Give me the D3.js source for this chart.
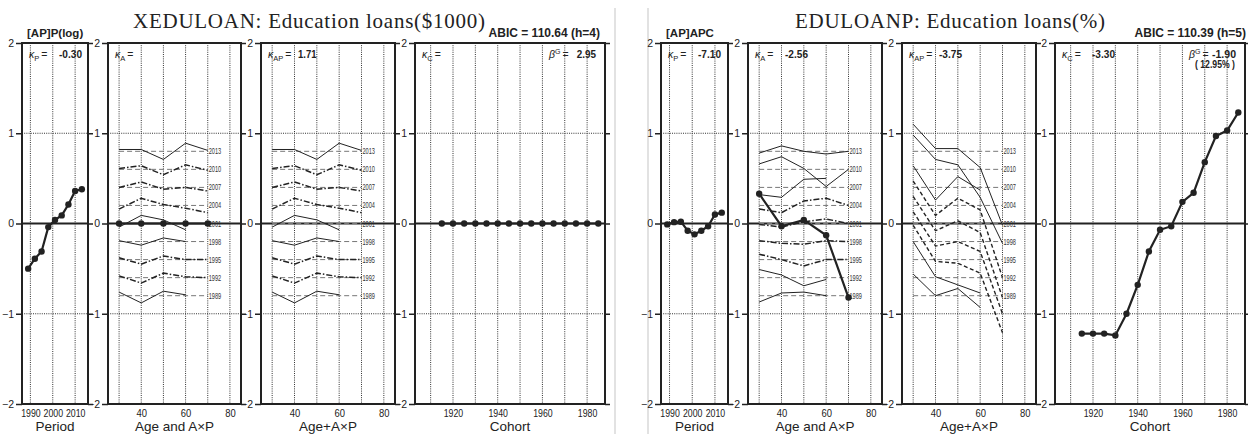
<!DOCTYPE html>
<html>
<head>
<meta charset="utf-8">
<script src="https://cdn.jsdelivr.net/npm/d3@7"></script>
<style>
body { margin: 0; background: #fff; }
svg { display: block; font-family: "Liberation Sans", Arial, sans-serif; }
</style>
</head>
<body>
<svg id="chart" width="1248" height="434"></svg>
<script>
// ---- data ----
const periods = [1989, 1992, 1995, 1998, 2001, 2004, 2007, 2010, 2013];
const ages = [30, 40, 50, 60, 70];
const cohorts = [1915, 1920, 1925, 1930, 1935, 1940, 1945, 1950, 1955, 1960, 1965, 1970, 1975, 1980, 1985];
const refLevels = [-0.8, -0.6, -0.4, -0.2, 0, 0.2, 0.4, 0.6, 0.8];

const periodGrid = [1990, 2000, 2010];
const ageGrid = [30, 40, 50, 60, 70, 80];
const ageTicks = [40, 60, 80];
const cohortGrid = [1910, 1920, 1930, 1940, 1950, 1960, 1970, 1980];
const cohortTicks = [1920, 1940, 1960, 1980];
const yTicks = [-2, -1, 0, 1, 2];

// XEDULOAN ($1000)
const loanPeriod = [-0.50, -0.39, -0.31, -0.04, 0.04, 0.09, 0.21, 0.36, 0.38];
const loanAge = [0, 0, 0, 0, 0];
const loanCohort = [0, 0, 0, 0, 0, 0, 0, 0, 0, 0, 0, 0, 0, 0, 0];
const loanAxP = [
  [-0.76, -0.88, -0.75, -0.79],
  [-0.58, -0.66, -0.55, -0.59, -0.60],
  [-0.38, -0.45, -0.36, -0.40, -0.40],
  [-0.19, -0.24, -0.16, -0.20],
  [-0.04, 0.09, 0.04, -0.07],
  [0.16, 0.28, 0.21, 0.17, 0.12],
  [0.40, 0.46, 0.38, 0.40, 0.36],
  [0.61, 0.64, 0.54, 0.65, 0.59],
  [0.82, 0.82, 0.71, 0.89, 0.81]
];
const loanAgeAxP = loanAxP;

// EDULOANP (%)
const pctPeriod = [-0.01, 0.015, 0.02, -0.08, -0.12, -0.08, -0.03, 0.10, 0.12];
const pctAge = [0.33, -0.03, 0.04, -0.13, -0.82];
const pctCohort = [-1.22, -1.22, -1.22, -1.24, -1.00, -0.68, -0.31, -0.07, -0.03, 0.24, 0.34, 0.68, 0.97, 1.03, 1.23];
const pctAxP = [
  [-0.87, -0.77, -0.76, -0.80],
  [-0.51, -0.57, -0.69, -0.62],
  [-0.34, -0.40, -0.47, -0.40, -0.40],
  [-0.19, -0.22, -0.23, -0.19, -0.20],
  [-0.01, -0.04, 0.02, 0.05, 0.00],
  [0.16, 0.12, 0.25, 0.28, 0.20],
  [0.32, 0.29, 0.49, 0.50],
  [0.66, 0.74, 0.61, 0.41, 0.60],
  [0.78, 0.86, 0.80, 0.77, 0.80]
];
const pctAgeAxP = [
  [-0.56, -0.80, -0.72, -0.93],
  [-0.20, -0.59, -0.68, -0.77],
  [-0.02, -0.42, -0.44, -0.55, -1.21],
  [0.13, -0.25, -0.20, -0.31, -1.00],
  [0.30, -0.08, 0.03, -0.10, -0.82],
  [0.47, 0.09, 0.28, 0.15, -0.60],
  [0.64, 0.26, 0.52, 0.37],
  [0.98, 0.71, 0.65, 0.29, -0.22],
  [1.10, 0.83, 0.83, 0.62, -0.02]
];

// line style per period (index follows periods)
const loanStyles = ["solid", "dashdot", "dashdot", "solid", "solid", "dashdot", "dashdot", "dashdot", "solid"];
const pctStylesA = ["solid", "solid", "dashdot", "dashdot", "dashdot", "dashdot", "solid", "solid", "solid"];
const pctStylesAP = ["solid", "solid", "dash", "dash", "dash", "dash", "solid", "solid", "solid"];

// ---- drawing ----
const svg = d3.select("#chart");
const ink = "#222";
const yTop = 43, yBot = 404;
const y = d3.scaleLinear().domain([-2, 2]).range([yBot, yTop]);
const dashOf = { solid: null, dashdot: "6,2,1.5,2", dash: "4,2.5" };
const widthOf = { solid: 1, dashdot: 1.5, dash: 1.4 };

svg.append("rect").attr("width", 1248).attr("height", 434).attr("fill", "#fff");
// separators between the two figures
[615, 648].forEach(function(sx) {
  svg.append("line").attr("x1", sx).attr("x2", sx).attr("y1", 8).attr("y2", 434)
    .attr("stroke", "#d8d8d8").attr("stroke-width", 1.5);
});

function drawPanel(p) {
  const x = d3.scaleLinear().domain(p.domain).range([p.x0, p.x1]);
  const g = svg.append("g");

  g.selectAll("line.vg").data(p.grid).join("line")
    .attr("x1", d => x(d)).attr("x2", d => x(d))
    .attr("y1", yTop).attr("y2", yBot)
    .attr("stroke", "#333").attr("stroke-width", 1).attr("stroke-dasharray", "1,1.2");
  g.selectAll("line.hg").data([1, -1]).join("line")
    .attr("x1", p.x0).attr("x2", p.x1)
    .attr("y1", d => y(d)).attr("y2", d => y(d))
    .attr("stroke", "#333").attr("stroke-width", 1).attr("stroke-dasharray", "1,1.2");
  g.append("line").attr("x1", p.x0).attr("x2", p.x1)
    .attr("y1", y(0)).attr("y2", y(0))
    .attr("stroke", ink).attr("stroke-width", 2);

  // y axis (left, with labels) and right ticks
  const yl = g.append("g").attr("transform", `translate(${p.x0},0)`)
    .call(d3.axisLeft(y).tickValues(yTicks).tickSize(6).tickPadding(2).tickFormat(d3.format("d")));
  const yr = g.append("g").attr("transform", `translate(${p.x1},0)`)
    .call(d3.axisRight(y).tickValues(yTicks).tickSize(5).tickFormat(""));
  [yl, yr].forEach(a => {
    a.select(".domain").remove();
    a.selectAll(".tick line").attr("stroke", ink).attr("stroke-width", 1.5);
  });
  yl.selectAll(".tick text").attr("font-size", 10.5).attr("fill", ink)
    .attr("font-family", "Liberation Sans, Arial, sans-serif");

  // x axis tick labels
  const xa = g.append("g").attr("transform", `translate(0,${yBot})`)
    .call(d3.axisBottom(x).tickValues(p.ticks).tickSize(0).tickPadding(6).tickFormat(d3.format("d")));
  xa.select(".domain").remove();
  xa.selectAll(".tick text").attr("font-size", 10.5).attr("fill", ink)
    .attr("font-family", "Liberation Sans, Arial, sans-serif")
    .attr("textLength", d => String(d).length === 4 ? 19.5 : 10.5)
    .attr("lengthAdjust", "spacingAndGlyphs");

  g.append("text").attr("x", (p.x0 + p.x1) / 2).attr("y", 431)
    .attr("text-anchor", "middle").attr("font-size", 13.5).attr("fill", ink)
    .text(p.title);

  g.append("rect").attr("x", p.x0).attr("y", yTop)
    .attr("width", p.x1 - p.x0).attr("height", yBot - yTop)
    .attr("fill", "none").attr("stroke", ink).attr("stroke-width", 2);
  return x;
}

function kappa(x0, sub, value) {
  const t = svg.append("text").attr("x", x0 + 7).attr("y", 58)
    .attr("font-size", 10.5).attr("fill", ink);
  t.append("tspan").text("κ").attr("font-style", "italic");
  t.append("tspan").attr("dy", 2.5).attr("font-size", 7.5).text(sub);
  t.append("tspan").attr("dy", -2.5).attr("dx", 2).text("=");
  if (value !== null) {
    svg.append("text").attr("x", x0 + 37).attr("y", 58)
      .attr("font-size", 10.5).attr("font-weight", "bold").attr("fill", ink)
      .attr("textLength", value.length * 4.6).attr("lengthAdjust", "spacingAndGlyphs")
      .text(value);
  }
}

function beta(x1, value, extra) {
  const t = svg.append("text").attr("x", x1 - 56).attr("y", 58)
    .attr("font-size", 10.5).attr("fill", ink);
  t.append("tspan").text("β").attr("font-style", "italic");
  t.append("tspan").attr("dy", -4).attr("font-size", 7).text("G");
  t.append("tspan").attr("dy", 4).attr("dx", 2).text("=");
  svg.append("text").attr("x", x1 - 9).attr("y", 58).attr("text-anchor", "end")
    .attr("font-size", 10.5).attr("font-weight", "bold").attr("fill", ink)
    .attr("textLength", value.length * 4.8).attr("lengthAdjust", "spacingAndGlyphs")
    .text(value);
  if (extra) {
    svg.append("text").attr("x", x1 - 10).attr("y", 68).attr("text-anchor", "end")
      .attr("font-size", 10).attr("font-weight", "bold").attr("fill", ink)
      .attr("textLength", 40).attr("lengthAdjust", "spacingAndGlyphs")
      .text(extra);
  }
}

function effectLine(x, xs, vals) {
  const line = d3.line().x((d, i) => x(xs[i])).y(d => y(d));
  svg.append("path").attr("d", line(vals)).attr("fill", "none")
    .attr("stroke", ink).attr("stroke-width", 2.2);
  svg.append("g").selectAll("circle").data(vals).join("circle")
    .attr("cx", (d, i) => x(xs[i])).attr("cy", d => y(d)).attr("r", 3.2).attr("fill", ink);
}

function periodLines(x, series, styles) {
  const g = svg.append("g");
  g.selectAll("line.ref").data(refLevels).join("line")
    .attr("x1", x(ages[0])).attr("x2", x(ages[ages.length - 1]))
    .attr("y1", d => y(d)).attr("y2", d => y(d))
    .attr("stroke", "#777").attr("stroke-width", 1).attr("stroke-dasharray", "5,3");
  g.selectAll("text.yr").data(periods).join("text")
    .attr("x", x(ages[ages.length - 1]) + 1).attr("y", (d, i) => y(refLevels[i]) + 3)
    .attr("font-size", 8.5).attr("fill", "#333")
    .attr("textLength", 12.5).attr("lengthAdjust", "spacingAndGlyphs")
    .text(d => d);
  const line = d3.line().x((d, i) => x(ages[i])).y(d => y(d));
  g.selectAll("path.pl").data(series).join("path")
    .attr("d", d => line(d)).attr("fill", "none").attr("stroke", ink)
    .attr("stroke-width", (d, i) => widthOf[styles[i]])
    .attr("stroke-dasharray", (d, i) => dashOf[styles[i]]);
}

function figure(f) {
  const xP = drawPanel({ x0: f.px[0][0], x1: f.px[0][1], domain: [1986.25, 2015.75], grid: periodGrid, ticks: periodGrid, title: "Period" });
  const xA = drawPanel({ x0: f.px[1][0], x1: f.px[1][1], domain: [25, 85], grid: ageGrid, ticks: ageTicks, title: "Age and A×P" });
  const xAP = drawPanel({ x0: f.px[2][0], x1: f.px[2][1], domain: [25, 85], grid: ageGrid, ticks: ageTicks, title: "Age+A×P" });
  const xC = drawPanel({ x0: f.px[3][0], x1: f.px[3][1], domain: [1903, 1988], grid: cohortGrid, ticks: cohortTicks, title: "Cohort" });

  periodLines(xA, f.axp, f.stylesA);
  effectLine(xA, ages, f.age);
  periodLines(xAP, f.ageAxp, f.stylesAP);
  effectLine(xP, periods, f.period);
  effectLine(xC, cohorts, f.cohort);

  svg.append("text").attr("x", f.titleX[0]).attr("y", 27.5)
    .attr("font-family", "Liberation Serif, serif").attr("font-size", 21).attr("fill", ink)
    .attr("textLength", f.titleX[1] - f.titleX[0]).attr("lengthAdjust", "spacing")
    .text(f.title);
  svg.append("text").attr("x", f.abicX).attr("y", 36.5).attr("text-anchor", "end")
    .attr("font-size", 12).attr("font-weight", "bold").attr("fill", ink)
    .text(f.abic);
  svg.append("text").attr("x", f.px[0][0] + 5).attr("y", 37)
    .attr("font-size", 11.5).attr("font-weight", "bold").attr("fill", ink)
    .text(f.model);

  kappa(f.px[0][0], "P", f.k[0]);
  kappa(f.px[1][0], "A", f.k[1]);
  kappa(f.px[2][0], "AP", f.k[2]);
  kappa(f.px[3][0], "C", f.k[3]);
  beta(f.px[3][1], f.beta, f.betaExtra);
}

figure({
  px: [[22, 88], [108, 241], [261, 395], [415, 605]],
  title: "XEDULOAN: Education loans($1000)", titleX: [133, 485],
  abic: "ABIC = 110.64 (h=4)", abicX: 600, model: "[AP]P(log)",
  k: ["-0.30", null, "1.71", null], beta: "2.95", betaExtra: null,
  period: loanPeriod, age: loanAge, cohort: loanCohort,
  axp: loanAxP, ageAxp: loanAgeAxP, stylesA: loanStyles, stylesAP: loanStyles
});

figure({
  px: [[661, 728], [748, 882], [902, 1036], [1055, 1245]],
  title: "EDULOANP: Education loans(%)", titleX: [795, 1105],
  abic: "ABIC = 110.39 (h=5)", abicX: 1246, model: "[AP]APC",
  k: ["-7.10", "-2.56", "-3.75", "-3.30"], beta: "-1.90", betaExtra: "( 12.95% )",
  period: pctPeriod, age: pctAge, cohort: pctCohort,
  axp: pctAxP, ageAxp: pctAgeAxP, stylesA: pctStylesA, stylesAP: pctStylesAP
});
</script>
</body>
</html>
